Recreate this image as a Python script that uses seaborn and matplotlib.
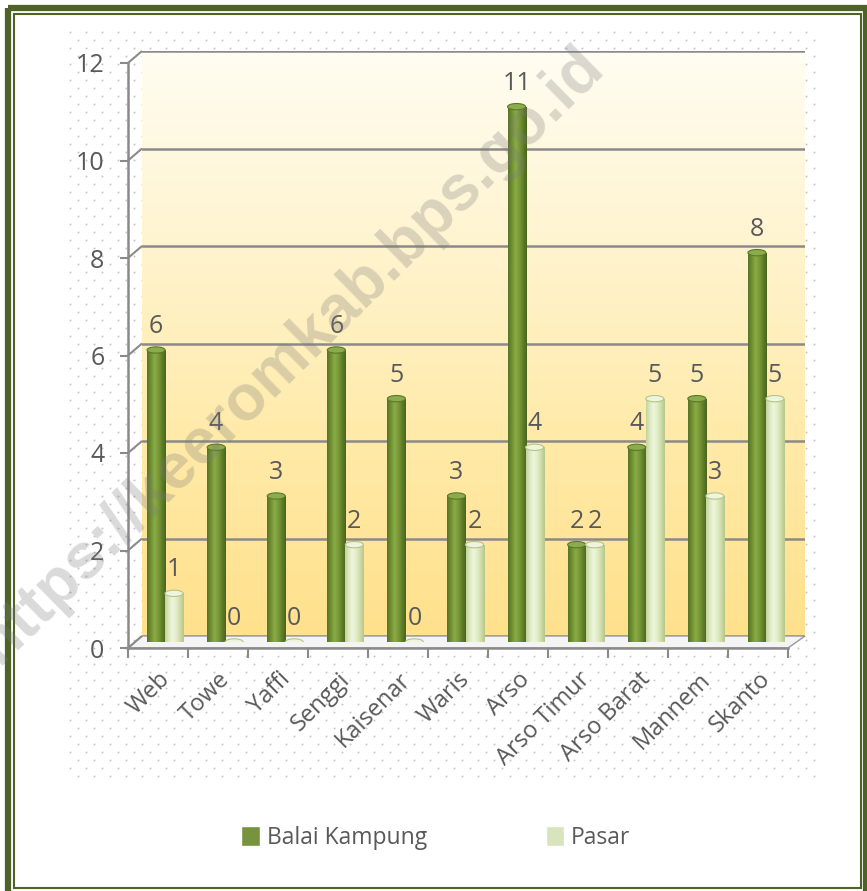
import numpy as np
import pandas as pd
import matplotlib
matplotlib.use('Agg')
import matplotlib.pyplot as plt
import seaborn as sns
from matplotlib.colors import LinearSegmentedColormap
from matplotlib.patches import Rectangle, Ellipse, Polygon

# ---------------- data ----------------
categories = ["Web", "Towe", "Yaffi", "Senggi", "Kaisenar", "Waris", "Arso",
              "Arso Timur", "Arso Barat", "Mannem", "Skanto"]
balai_kampung = [6, 4, 3, 6, 5, 3, 11, 2, 4, 5, 8]
pasar = [1, 0, 0, 2, 0, 2, 4, 2, 5, 3, 5]
series_names = ["Balai Kampung", "Pasar"]
y_ticks = [0, 2, 4, 6, 8, 10, 12]
watermark = "https://keeromkab.bps.go.id"

W, H = 867, 891
sns.set_theme(style='white')
plt.rcParams['font.family'] = ['Open Sans', 'DejaVu Sans']

TXT = '#595959'
DARK = '#77933c'
LIGHT = '#d7e4bd'
GRID = '#8a8a8a'

fig = plt.figure(figsize=(W / 100, H / 100), dpi=100)
fig.patch.set_facecolor('white')


def rect(l, t, r, b):
    return [l / W, 1 - b / H, (r - l) / W, (b - t) / H]


# ---------------- decoration layer (pixel coordinates) ----------------
deco = fig.add_axes([0, 0, 1, 1], zorder=0)
deco.set_xlim(0, W)
deco.set_ylim(H, 0)
deco.axis('off')

xs, ys = [], []
for i, yy in enumerate(np.arange(32, 781, 8)):
    off = 0 if i % 2 == 0 else 8
    for xx in np.arange(70 + off, 820, 16):
        xs.append(xx)
        ys.append(yy)
deco.scatter(xs, ys, s=2.0, c='#c4c4c4', linewidths=0)

deco.add_patch(Rectangle((8, 8), 858, 885, fill=False, ec='#4f6228', lw=4.5))
deco.add_patch(Rectangle((13.8, 13.8), 847.4, 874, fill=False, ec='#4f6228', lw=1.5))

# front / back geometry
FL, FR, FT, FB = 128, 788, 63, 648     # front plane
BL, BR, BT, BB = 142, 805, 51, 636     # back wall


def yf(v):
    return FB - v * (FB - FT) / 12.0


def yb(v):
    return BB - v * (BB - BT) / 12.0


# floor slab
deco.add_patch(Polygon([(FL, FB), (FR, FB), (BR, BB), (BL, BB)], closed=True,
                       fc='#f4f4f4', ec='#9a9a9a', lw=1.0))
# slanted connectors of gridlines on left side wall
for v in y_ticks:
    deco.plot([FL, BL], [yf(v), yb(v)], color=GRID, lw=1.5, solid_capstyle='butt')

# ---------------- back wall ----------------
wall = fig.add_axes(rect(BL, BT, BR, BB), zorder=1)
wall.set_xlim(0, 1)
wall.set_ylim(0, 12)
cmap_wall = LinearSegmentedColormap.from_list(
    'wall', ['#ffe18c', '#ffeaa8', '#fff4cf', '#fffdf2'])
grad = np.linspace(0, 1, 256).reshape(-1, 1)
wall.imshow(grad, extent=(0, 1, 0, 12), origin='lower', aspect='auto', cmap=cmap_wall)
for v in y_ticks:
    wall.axhline(v, color=GRID, lw=1.8)
wall.set_xlim(0, 1)
wall.set_ylim(0, 12)
wall.axis('off')

# ---------------- bars (mid depth) ----------------
bax = fig.add_axes(rect(135, 58, 796, 642), zorder=2)
bax.patch.set_alpha(0)
df = pd.DataFrame({
    'Kategori': categories * 2,
    'Jumlah': balai_kampung + pasar,
    'Seri': [series_names[0]] * len(categories) + [series_names[1]] * len(categories),
})
sns.barplot(data=df, x='Kategori', y='Jumlah', hue='Seri', order=categories,
            hue_order=series_names, palette=[DARK, LIGHT], saturation=1,
            width=0.6, errorbar=None, legend=False, ax=bax)

cm_dark = LinearSegmentedColormap.from_list(
    'd', ['#56742a', '#6f902f', '#8aab47', '#7a9a38', '#5f7f28', '#4a6420'])
cm_light = LinearSegmentedColormap.from_list(
    'l', ['#c3d39c', '#dde9c2', '#eef6dc', '#e2edc8', '#cfdcaa', '#b7c68a'])
cap_top = ['#8cab4c', '#eef5dc']
cap_edge = ['#5a7a26', '#b5c48c']
hgrad = np.linspace(0, 1, 64).reshape(1, -1)

for k, (cont, cm) in enumerate(zip(bax.containers, [cm_dark, cm_light])):
    for p in cont.patches:
        x0, w, h = p.get_x(), p.get_width(), p.get_height()
        p.set_edgecolor('none')
        if h > 0:
            im = bax.imshow(hgrad, extent=(x0, x0 + w, 0, h), aspect='auto',
                            cmap=cm, zorder=3)
            im.set_clip_path(p)
        bax.add_patch(Ellipse((x0 + w / 2, h), width=w, height=0.13,
                              fc=cap_top[k], ec=cap_edge[k], lw=0.8, zorder=4))
    vals = [int(round(pp.get_height())) for pp in cont.patches]
    bax.bar_label(cont, labels=[str(v) for v in vals], padding=8,
                  color=TXT, fontsize=18, zorder=5)

bax.set_xlim(-0.5, len(categories) - 0.5)
bax.set_ylim(0, 12)
bax.axis('off')

# ---------------- front axis (ticks & labels) ----------------
fax = fig.add_axes(rect(FL, FT, FR, FB), zorder=3)
fax.patch.set_alpha(0)
fax.set_xlim(-0.5, len(categories) - 0.5)
fax.set_ylim(0, 12)
for s in ['top', 'right']:
    fax.spines[s].set_visible(False)
for s in ['left', 'bottom']:
    fax.spines[s].set_color(GRID)
    fax.spines[s].set_linewidth(1.8)
fax.set_yticks(y_ticks)
fax.set_yticklabels([str(v) for v in y_ticks])
fax.tick_params(axis='y', which='major', left=True, length=6, width=1.5,
                color=GRID, pad=11, labelsize=18, labelcolor=TXT)
fax.set_xticks(np.arange(len(categories)))
fax.set_xticklabels(categories, rotation=45, ha='right', rotation_mode='anchor')
fax.tick_params(axis='x', which='major', bottom=False, length=0, pad=14,
                labelsize=17, labelcolor=TXT)
fax.set_xticks(np.arange(-0.5, len(categories)), minor=True)
fax.tick_params(axis='x', which='minor', bottom=True, length=7, width=1.5,
                color=GRID, direction='out')
fax.grid(False)

# ---------------- legend ----------------
handles = [Rectangle((0, 0), 1, 1, fc=DARK), Rectangle((0, 0), 1, 1, fc=LIGHT)]
fig.legend(handles, series_names, loc='center', bbox_to_anchor=(436 / W, 1 - 838 / H),
           ncol=2, frameon=False, fontsize=16.5, labelcolor=TXT, handlelength=0.8,
           handleheight=0.95, handletextpad=0.3, columnspacing=5.2)

# ---------------- watermark ----------------
fig.text(290 / W, 1 - 355 / H, watermark, rotation=44.5, ha='center', va='center',
         fontsize=46, fontweight='bold', family='Liberation Sans', color='#7a7a7a',
         alpha=0.28, zorder=20, rotation_mode='anchor')

fig.savefig('out.png', dpi=100, facecolor='white')
